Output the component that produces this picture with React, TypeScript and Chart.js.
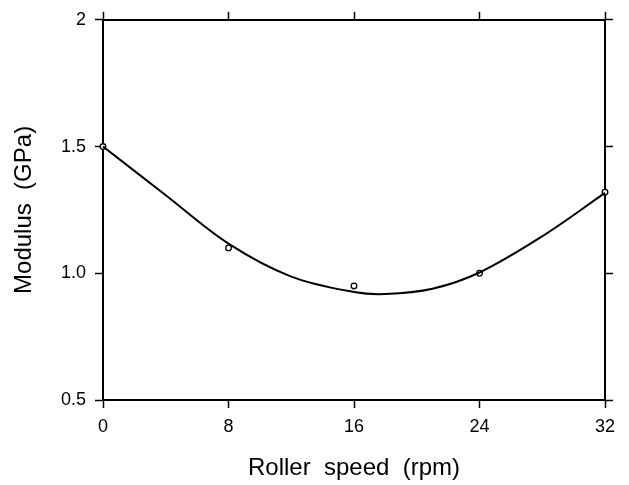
import { useEffect, useRef } from "react";
import { Chart, registerables } from "chart.js";

Chart.register(...registerables);

// Measured modulus at each roller speed
const speedRpm = [0, 8, 16, 24, 32];
const modulusGPa = [1.5, 1.1, 0.95, 1.0, 1.32];

// Smooth trend curve through the measurements
const fitSpeed = [0, 4, 8, 12, 16, 18, 21, 24, 28, 32];
const fitModulus = [1.5, 1.308, 1.117, 0.987, 0.926, 0.918, 0.939, 1.003, 1.146, 1.317];

// Axis ticks
const xTicks = [0, 8, 16, 24, 32];
const yTicks = [0.5, 1.0, 1.5, 2.0];
const yTickLabels = ["0.5", "1.0", "1.5", "2"];

const xTitle = "Roller  speed  (rpm)";
const yTitle = "Modulus  (GPa)";

const FONT = "'Liberation Sans', Arial, Helvetica, sans-serif";
const INK = "#000000";

const frameGrid = {
  drawOnChartArea: false,
  drawTicks: true,
  tickLength: 8,
  tickWidth: 1.5,
  tickColor: INK,
};
const frameBorder = { display: true, color: INK, width: 2 };

const setTicks = (values: number[]) => (scale: any) => {
  scale.ticks = values.map((value) => ({ value }));
};

export default function App() {
  const canvasRef = useRef<HTMLCanvasElement | null>(null);

  useEffect(() => {
    const canvas = canvasRef.current;
    if (!canvas) return;

    const chart = new Chart(canvas, {
      type: "scatter",
      data: {
        datasets: [
          {
            label: "trend",
            data: fitSpeed.map((x, i) => ({ x, y: fitModulus[i] })),
            showLine: true,
            borderColor: INK,
            borderWidth: 2,
            pointRadius: 0,
            tension: 0.35,
            fill: false,
            clip: false,
          },
          {
            label: "measured",
            data: speedRpm.map((x, i) => ({ x, y: modulusGPa[i] })),
            showLine: false,
            pointStyle: "circle",
            pointRadius: 2.8,
            pointBorderWidth: 1.3,
            pointBorderColor: INK,
            pointBackgroundColor: "#ffffff",
            clip: false,
          },
        ],
      },
      options: {
        responsive: false,
        animation: false,
        devicePixelRatio: 1,
        layout: { padding: 0 },
        plugins: {
          legend: { display: false },
          tooltip: { enabled: false },
        },
        scales: {
          x: {
            type: "linear",
            position: "bottom",
            min: 0,
            max: 32,
            afterBuildTicks: setTicks(xTicks),
            afterFit: (scale: any) => {
              scale.height = 85;
            },
            grid: frameGrid,
            border: frameBorder,
            ticks: {
              color: INK,
              padding: 8,
              maxRotation: 0,
              font: { family: FONT, size: 18, lineHeight: 1.2 },
            },
            title: {
              display: true,
              text: xTitle,
              color: INK,
              padding: { top: 0, bottom: 2 },
              font: { family: FONT, size: 24, lineHeight: 1.2 },
            },
          },
          x2: {
            type: "linear",
            position: "top",
            min: 0,
            max: 32,
            afterBuildTicks: setTicks(xTicks),
            afterFit: (scale: any) => {
              scale.height = 15;
            },
            grid: frameGrid,
            border: frameBorder,
            ticks: { display: false },
          },
          y: {
            type: "linear",
            position: "left",
            min: 0.5,
            max: 2,
            afterBuildTicks: setTicks(yTicks),
            afterFit: (scale: any) => {
              scale.width = 103;
            },
            grid: frameGrid,
            border: frameBorder,
            ticks: {
              color: INK,
              padding: 9,
              font: { family: FONT, size: 18, lineHeight: 1.2 },
              callback: (value: any) => {
                const i = yTicks.findIndex((t) => Math.abs(t - Number(value)) < 1e-9);
                return i >= 0 ? yTickLabels[i] : "";
              },
            },
            title: {
              display: true,
              text: yTitle,
              color: INK,
              padding: { top: 10, bottom: 0 },
              font: { family: FONT, size: 24, lineHeight: 1.2 },
            },
          },
          y2: {
            type: "linear",
            position: "right",
            min: 0.5,
            max: 2,
            afterBuildTicks: setTicks(yTicks),
            afterFit: (scale: any) => {
              scale.width = 24;
            },
            grid: frameGrid,
            border: frameBorder,
            ticks: { display: false },
          },
        },
      },
    });

    return () => chart.destroy();
  }, []);

  return (
    <div
      style={{
        position: "absolute",
        left: 0,
        top: 0,
        width: 629,
        height: 485,
        background: "#ffffff",
      }}
    >
      <canvas ref={canvasRef} width={629} height={485} style={{ display: "block" }} />
    </div>
  );
}
